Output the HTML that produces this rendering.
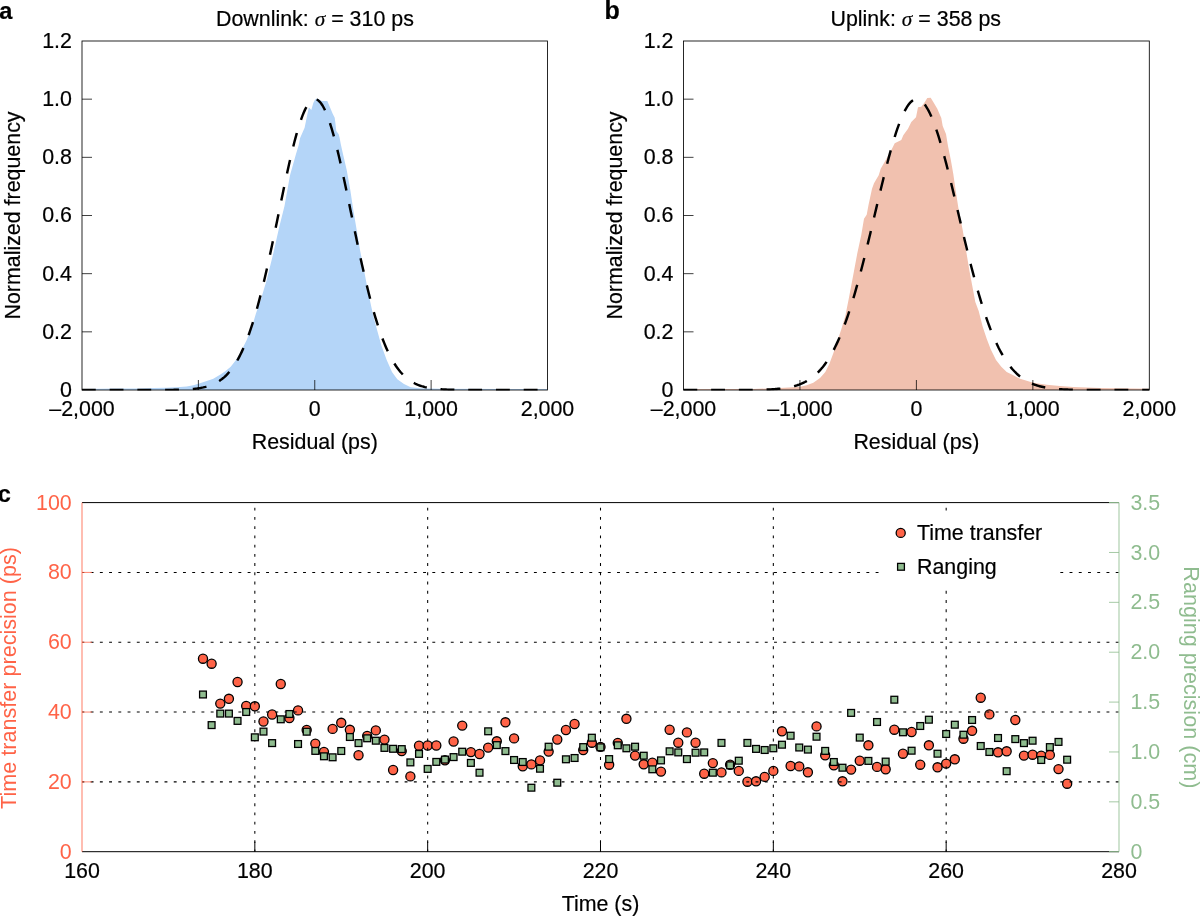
<!DOCTYPE html>
<html lang="en"><head><meta charset="utf-8"><title>Figure</title>
<style>html,body{margin:0;padding:0;background:#fff}svg{display:block}text{white-space:pre;stroke-width:0.2px;stroke-linejoin:round}text.k{stroke-width:0}</style></head>
<body>
<svg width="1200" height="916" viewBox="0 0 1200 916" font-family='"Liberation Sans", Arial, Helvetica, sans-serif' font-size="21.4">
<rect width="1200" height="916" fill="#fff"/>
<g id="panel-a">
<clipPath id="clip-a"><rect x="82" y="41" width="465.5" height="349.6"/></clipPath>
<path d="M82,390 L82,389 L100,388.8 L120,388.6 L140,388.4 L153.3,388 L166.7,387.7 L180,387 L186.7,386.4 L193.3,385.3 L200,383.3 L206.7,381 L213.3,378.7 L220,374.7 L225.3,371.3 L230.7,366.7 L236,360 L241.3,350.7 L246.7,340 L252,326.7 L256,313.3 L260.7,300 L266.7,280 L273.3,253.3 L279.3,226.7 L284.5,206 L290,175.3 L296,154 L298.7,145 L300,138.3 L304.6,127.7 L308.6,108.2 L309.3,107.7 L311.3,110 L313.3,103 L314.7,100.3 L316.3,98.4 L319,99.4 L322,101 L323.3,101.1 L327.3,101 L328.7,104.3 L332.7,113.7 L334.7,117.7 L335.3,122.3 L336.3,131 L338.7,134.3 L339.7,138.3 L340.7,143.7 L342.7,152.7 L346.7,170 L350.3,190 L353.3,210 L356.7,230 L360,250 L364,270 L368,291.3 L370.5,303 L373.3,316 L377.3,330.7 L381.3,345.3 L386.7,360 L392,372 L397.3,379.3 L404,384 L410.7,387.3 L420,388.3 L440,388.8 L547.5,389 L547.5,390 Z" fill="#B4D5F8" clip-path="url(#clip-a)"/>
<rect x="82" y="41" width="465.5" height="349" fill="none" stroke="#000" stroke-width="0.85"/>
<text x="71.9" y="396.9" text-anchor="end" fill="#000" stroke="#000" font-size="21.4">0</text>
<line x1="82" y1="331.83" x2="92" y2="331.83" stroke="#000" stroke-width="0.75"/>
<text x="71.9" y="338.73" text-anchor="end" fill="#000" stroke="#000" font-size="21.4">0.2</text>
<line x1="82" y1="273.67" x2="92" y2="273.67" stroke="#000" stroke-width="0.75"/>
<text x="71.9" y="280.57" text-anchor="end" fill="#000" stroke="#000" font-size="21.4">0.4</text>
<line x1="82" y1="215.5" x2="92" y2="215.5" stroke="#000" stroke-width="0.75"/>
<text x="71.9" y="222.4" text-anchor="end" fill="#000" stroke="#000" font-size="21.4">0.6</text>
<line x1="82" y1="157.33" x2="92" y2="157.33" stroke="#000" stroke-width="0.75"/>
<text x="71.9" y="164.23" text-anchor="end" fill="#000" stroke="#000" font-size="21.4">0.8</text>
<line x1="82" y1="99.17" x2="92" y2="99.17" stroke="#000" stroke-width="0.75"/>
<text x="71.9" y="106.07" text-anchor="end" fill="#000" stroke="#000" font-size="21.4">1.0</text>
<text x="71.9" y="47.9" text-anchor="end" fill="#000" stroke="#000" font-size="21.4">1.2</text>
<text x="82" y="416.3" text-anchor="middle" fill="#000" stroke="#000" font-size="21.4">–2,000</text>
<line x1="198.38" y1="390" x2="198.38" y2="380" stroke="#000" stroke-width="0.75"/>
<text x="198.38" y="416.3" text-anchor="middle" fill="#000" stroke="#000" font-size="21.4">–1,000</text>
<line x1="314.75" y1="390" x2="314.75" y2="380" stroke="#000" stroke-width="0.75"/>
<text x="314.75" y="416.3" text-anchor="middle" fill="#000" stroke="#000" font-size="21.4">0</text>
<line x1="431.12" y1="390" x2="431.12" y2="380" stroke="#000" stroke-width="0.75"/>
<text x="431.12" y="416.3" text-anchor="middle" fill="#000" stroke="#000" font-size="21.4">1,000</text>
<text x="547.5" y="416.3" text-anchor="middle" fill="#000" stroke="#000" font-size="21.4">2,000</text>
<path d="M82,390 L83.17,390 L84.33,390 L85.5,390 L86.67,390 L87.83,390 L89,390 L90.17,390 L91.33,390 L92.5,390 L93.67,390 L94.83,390 L96,390 L97.17,390 L98.33,390 L99.5,390 L100.67,390 L101.83,390 L103,390 L104.17,390 L105.33,390 L106.5,390 L107.67,390 L108.83,390 L110,390 L111.17,390 L112.33,390 L113.5,390 L114.67,390 L115.83,390 L117,390 L118.17,390 L119.33,390 L120.5,390 L121.67,390 L122.83,390 L124,390 L125.17,390 L126.33,390 L127.5,390 L128.67,390 L129.83,390 L131,390 L132.17,390 L133.33,390 L134.5,390 L135.67,390 L136.83,390 L138,390 L139.17,390 L140.33,390 L141.5,390 L142.67,390 L143.83,390 L145,389.99 L146.17,389.99 L147.33,389.99 L148.5,389.99 L149.67,389.99 L150.83,389.99 L152,389.99 L153.17,389.99 L154.33,389.98 L155.5,389.98 L156.67,389.98 L157.83,389.97 L159,389.97 L160.17,389.97 L161.33,389.96 L162.5,389.96 L163.67,389.95 L164.83,389.94 L166,389.94 L167.17,389.93 L168.33,389.92 L169.5,389.9 L170.67,389.89 L171.83,389.88 L173,389.86 L174.17,389.84 L175.33,389.82 L176.5,389.8 L177.67,389.77 L178.83,389.74 L180,389.71 L181.17,389.67 L182.33,389.63 L183.5,389.58 L184.67,389.53 L185.83,389.48 L187,389.41 L188.17,389.34 L189.33,389.27 L190.5,389.18 L191.67,389.09 L192.83,388.98 L194,388.87 L195.17,388.74 L196.33,388.6 L197.5,388.44 L198.67,388.27 L199.83,388.09 L201,387.88 L202.17,387.66 L203.33,387.42 L204.5,387.15 L205.67,386.86 L206.83,386.54 L208,386.19 L209.17,385.82 L210.33,385.41 L211.5,384.97 L212.67,384.49 L213.83,383.97 L215,383.41 L216.17,382.8 L217.33,382.15 L218.5,381.44 L219.67,380.69 L220.83,379.87 L222,379 L223.17,378.06 L224.33,377.06 L225.5,375.99 L226.67,374.84 L227.83,373.62 L229,372.31 L230.17,370.92 L231.33,369.45 L232.5,367.88 L233.67,366.22 L234.83,364.46 L236,362.6 L237.17,360.63 L238.33,358.56 L239.5,356.37 L240.67,354.06 L241.83,351.64 L243,349.1 L244.17,346.43 L245.33,343.64 L246.5,340.72 L247.67,337.67 L248.83,334.49 L250,331.18 L251.17,327.73 L252.33,324.15 L253.5,320.44 L254.67,316.59 L255.83,312.61 L257,308.49 L258.17,304.25 L259.33,299.88 L260.5,295.39 L261.67,290.77 L262.83,286.03 L264,281.18 L265.17,276.23 L266.33,271.17 L267.5,266.01 L268.67,260.76 L269.83,255.43 L271,250.02 L272.17,244.55 L273.33,239.02 L274.5,233.44 L275.67,227.82 L276.83,222.18 L278,216.52 L279.17,210.85 L280.33,205.18 L281.5,199.54 L282.67,193.92 L283.83,188.35 L285,182.83 L286.17,177.39 L287.33,172.02 L288.5,166.75 L289.67,161.59 L290.83,156.55 L292,151.64 L293.17,146.89 L294.33,142.29 L295.5,137.87 L296.67,133.64 L297.83,129.6 L299,125.77 L300.17,122.16 L301.33,118.79 L302.5,115.65 L303.67,112.76 L304.83,110.14 L306,107.78 L307.17,105.69 L308.33,103.89 L309.5,102.37 L310.67,101.14 L311.83,100.2 L313,99.56 L314.17,99.23 L315.33,99.19 L316.5,99.45 L317.67,100.01 L318.83,100.87 L320,102.02 L321.17,103.47 L322.33,105.2 L323.5,107.22 L324.67,109.51 L325.83,112.06 L327,114.88 L328.17,117.96 L329.33,121.27 L330.5,124.82 L331.67,128.59 L332.83,132.58 L334,136.76 L335.17,141.14 L336.33,145.69 L337.5,150.41 L338.67,155.27 L339.83,160.28 L341,165.41 L342.17,170.66 L343.33,176 L344.5,181.43 L345.67,186.93 L346.83,192.49 L348,198.09 L349.17,203.73 L350.33,209.39 L351.5,215.06 L352.67,220.72 L353.83,226.38 L355,232 L356.17,237.59 L357.33,243.13 L358.5,248.62 L359.67,254.05 L360.83,259.4 L362,264.67 L363.17,269.85 L364.33,274.93 L365.5,279.92 L366.67,284.8 L367.83,289.56 L369,294.21 L370.17,298.74 L371.33,303.14 L372.5,307.42 L373.67,311.56 L374.83,315.58 L376,319.46 L377.17,323.21 L378.33,326.82 L379.5,330.31 L380.67,333.65 L381.83,336.87 L383,339.95 L384.17,342.9 L385.33,345.73 L386.5,348.43 L387.67,351 L388.83,353.45 L390,355.79 L391.17,358 L392.33,360.11 L393.5,362.1 L394.67,363.99 L395.83,365.78 L397,367.46 L398.17,369.06 L399.33,370.55 L400.5,371.96 L401.67,373.29 L402.83,374.53 L404,375.7 L405.17,376.79 L406.33,377.81 L407.5,378.76 L408.67,379.65 L409.83,380.48 L411,381.26 L412.17,381.97 L413.33,382.64 L414.5,383.26 L415.67,383.83 L416.83,384.36 L418,384.85 L419.17,385.3 L420.33,385.72 L421.5,386.1 L422.67,386.45 L423.83,386.78 L425,387.08 L426.17,387.35 L427.33,387.6 L428.5,387.83 L429.67,388.04 L430.83,388.23 L432,388.4 L433.17,388.56 L434.33,388.7 L435.5,388.83 L436.67,388.95 L437.83,389.06 L439,389.16 L440.17,389.25 L441.33,389.32 L442.5,389.4 L443.67,389.46 L444.83,389.52 L446,389.57 L447.17,389.62 L448.33,389.66 L449.5,389.7 L450.67,389.73 L451.83,389.76 L453,389.79 L454.17,389.81 L455.33,389.84 L456.5,389.86 L457.67,389.87 L458.83,389.89 L460,389.9 L461.17,389.91 L462.33,389.92 L463.5,389.93 L464.67,389.94 L465.83,389.95 L467,389.96 L468.17,389.96 L469.33,389.97 L470.5,389.97 L471.67,389.97 L472.83,389.98 L474,389.98 L475.17,389.98 L476.33,389.99 L477.5,389.99 L478.67,389.99 L479.83,389.99 L481,389.99 L482.17,389.99 L483.33,389.99 L484.5,389.99 L485.67,390 L486.83,390 L488,390 L489.17,390 L490.33,390 L491.5,390 L492.67,390 L493.83,390 L495,390 L496.17,390 L497.33,390 L498.5,390 L499.67,390 L500.83,390 L502,390 L503.17,390 L504.33,390 L505.5,390 L506.67,390 L507.83,390 L509,390 L510.17,390 L511.33,390 L512.5,390 L513.67,390 L514.83,390 L516,390 L517.17,390 L518.33,390 L519.5,390 L520.67,390 L521.83,390 L523,390 L524.17,390 L525.33,390 L526.5,390 L527.67,390 L528.83,390 L530,390 L531.17,390 L532.33,390 L533.5,390 L534.67,390 L535.83,390 L537,390 L538.17,390 L539.33,390 L540.5,390 L541.67,390 L542.83,390 L544,390 L545.17,390 L546.33,390 L547.5,390" fill="none" stroke="#000" stroke-width="2.45" stroke-dasharray="13.865 13.865" stroke-dashoffset="0.1" clip-path="url(#clip-a)"/>
<text x="314.75" y="448.9" text-anchor="middle" fill="#000" stroke="#000" font-size="21.4">Residual (ps)</text>
<text x="20" y="215.5" text-anchor="middle" fill="#000" stroke="#000" font-size="21.4" transform="rotate(-90 20 215.5)">Normalized frequency</text>
<text x="216" y="25.7" text-anchor="start" stroke="#000" font-size="21.4">Downlink: <tspan font-family="'Liberation Serif', 'DejaVu Serif', serif" font-style="italic" font-size="21.4">σ</tspan> = 310 ps</text>
</g>
<g id="panel-b">
<clipPath id="clip-b"><rect x="683.5" y="41" width="465.8" height="349.6"/></clipPath>
<path d="M684,390 L684,389.2 L720,389 L753,389 L780,388 L793.3,387.3 L800,386.7 L806.7,385.3 L813.3,382.7 L820,378 L825.3,372 L829.3,364 L833.3,353.3 L837.3,341.3 L841.3,329.3 L845.3,316 L848.5,300 L853.3,274.7 L857.3,253.3 L861.3,234.7 L864,218.7 L866.7,214.7 L868.5,205 L872,188.7 L874,183.3 L878.7,175.3 L880.7,168.7 L885.3,160.7 L892,148.7 L894.7,143.3 L901.3,140 L903.3,135.3 L908,128.7 L911.3,122 L916,117.3 L918,107.3 L921.3,106.7 L924,103.3 L927.3,98 L930.7,97.7 L933.3,102 L937.3,108.7 L941.3,118 L942.7,126 L946,134 L948,146 L950.7,159.3 L953.3,174 L955.6,190 L958.7,210 L962.7,230 L966,250 L969.3,270 L973.3,291.3 L975.3,302 L978.7,311 L982.7,326.7 L986.7,338.7 L990.7,349.3 L996,360 L1001.3,366.7 L1006.7,372 L1013.3,375.3 L1020,378.7 L1026.7,380.7 L1033.3,382.7 L1046.7,384.7 L1060,386 L1073.3,387 L1100,388 L1149.5,388.8 L1149.5,390 Z" fill="#F1C1AF" clip-path="url(#clip-b)"/>
<rect x="683.5" y="41" width="465.8" height="349" fill="none" stroke="#000" stroke-width="0.85"/>
<text x="673.4" y="396.9" text-anchor="end" fill="#000" stroke="#000" font-size="21.4">0</text>
<line x1="683.5" y1="331.83" x2="693.5" y2="331.83" stroke="#000" stroke-width="0.75"/>
<text x="673.4" y="338.73" text-anchor="end" fill="#000" stroke="#000" font-size="21.4">0.2</text>
<line x1="683.5" y1="273.67" x2="693.5" y2="273.67" stroke="#000" stroke-width="0.75"/>
<text x="673.4" y="280.57" text-anchor="end" fill="#000" stroke="#000" font-size="21.4">0.4</text>
<line x1="683.5" y1="215.5" x2="693.5" y2="215.5" stroke="#000" stroke-width="0.75"/>
<text x="673.4" y="222.4" text-anchor="end" fill="#000" stroke="#000" font-size="21.4">0.6</text>
<line x1="683.5" y1="157.33" x2="693.5" y2="157.33" stroke="#000" stroke-width="0.75"/>
<text x="673.4" y="164.23" text-anchor="end" fill="#000" stroke="#000" font-size="21.4">0.8</text>
<line x1="683.5" y1="99.17" x2="693.5" y2="99.17" stroke="#000" stroke-width="0.75"/>
<text x="673.4" y="106.07" text-anchor="end" fill="#000" stroke="#000" font-size="21.4">1.0</text>
<text x="673.4" y="47.9" text-anchor="end" fill="#000" stroke="#000" font-size="21.4">1.2</text>
<text x="683.5" y="416.3" text-anchor="middle" fill="#000" stroke="#000" font-size="21.4">–2,000</text>
<line x1="799.95" y1="390" x2="799.95" y2="380" stroke="#000" stroke-width="0.75"/>
<text x="799.95" y="416.3" text-anchor="middle" fill="#000" stroke="#000" font-size="21.4">–1,000</text>
<line x1="916.4" y1="390" x2="916.4" y2="380" stroke="#000" stroke-width="0.75"/>
<text x="916.4" y="416.3" text-anchor="middle" fill="#000" stroke="#000" font-size="21.4">0</text>
<line x1="1032.85" y1="390" x2="1032.85" y2="380" stroke="#000" stroke-width="0.75"/>
<text x="1032.85" y="416.3" text-anchor="middle" fill="#000" stroke="#000" font-size="21.4">1,000</text>
<text x="1149.3" y="416.3" text-anchor="middle" fill="#000" stroke="#000" font-size="21.4">2,000</text>
<path d="M683.5,390 L684.67,390 L685.83,390 L687,390 L688.17,390 L689.34,390 L690.5,390 L691.67,390 L692.84,390 L694.01,390 L695.17,390 L696.34,390 L697.51,390 L698.68,390 L699.84,390 L701.01,390 L702.18,390 L703.35,390 L704.51,390 L705.68,390 L706.85,390 L708.02,390 L709.18,390 L710.35,390 L711.52,390 L712.69,390 L713.85,390 L715.02,390 L716.19,390 L717.36,390 L718.52,390 L719.69,390 L720.86,390 L722.02,389.99 L723.19,389.99 L724.36,389.99 L725.53,389.99 L726.69,389.99 L727.86,389.99 L729.03,389.99 L730.2,389.99 L731.36,389.99 L732.53,389.98 L733.7,389.98 L734.87,389.98 L736.03,389.98 L737.2,389.97 L738.37,389.97 L739.54,389.96 L740.7,389.96 L741.87,389.96 L743.04,389.95 L744.21,389.94 L745.37,389.94 L746.54,389.93 L747.71,389.92 L748.88,389.91 L750.04,389.9 L751.21,389.89 L752.38,389.88 L753.55,389.86 L754.71,389.85 L755.88,389.83 L757.05,389.81 L758.21,389.79 L759.38,389.76 L760.55,389.74 L761.72,389.71 L762.88,389.68 L764.05,389.64 L765.22,389.6 L766.39,389.56 L767.55,389.51 L768.72,389.46 L769.89,389.41 L771.06,389.35 L772.22,389.28 L773.39,389.21 L774.56,389.13 L775.73,389.04 L776.89,388.95 L778.06,388.84 L779.23,388.73 L780.4,388.61 L781.56,388.48 L782.73,388.33 L783.9,388.17 L785.07,388.01 L786.23,387.82 L787.4,387.62 L788.57,387.41 L789.74,387.18 L790.9,386.93 L792.07,386.66 L793.24,386.37 L794.4,386.06 L795.57,385.72 L796.74,385.36 L797.91,384.97 L799.07,384.56 L800.24,384.11 L801.41,383.64 L802.58,383.13 L803.74,382.58 L804.91,382 L806.08,381.38 L807.25,380.72 L808.41,380.01 L809.58,379.27 L810.75,378.47 L811.92,377.63 L813.08,376.73 L814.25,375.78 L815.42,374.77 L816.59,373.71 L817.75,372.58 L818.92,371.39 L820.09,370.14 L821.26,368.81 L822.42,367.42 L823.59,365.95 L824.76,364.41 L825.93,362.8 L827.09,361.1 L828.26,359.32 L829.43,357.45 L830.59,355.5 L831.76,353.46 L832.93,351.33 L834.1,349.11 L835.26,346.8 L836.43,344.39 L837.6,341.88 L838.77,339.28 L839.93,336.58 L841.1,333.77 L842.27,330.87 L843.44,327.86 L844.6,324.75 L845.77,321.55 L846.94,318.24 L848.11,314.82 L849.27,311.31 L850.44,307.7 L851.61,303.99 L852.78,300.18 L853.94,296.28 L855.11,292.29 L856.28,288.2 L857.45,284.03 L858.61,279.77 L859.78,275.43 L860.95,271.02 L862.12,266.53 L863.28,261.97 L864.45,257.35 L865.62,252.66 L866.78,247.93 L867.95,243.14 L869.12,238.32 L870.29,233.46 L871.45,228.56 L872.62,223.65 L873.79,218.72 L874.96,213.78 L876.12,208.85 L877.29,203.92 L878.46,199 L879.63,194.11 L880.79,189.25 L881.96,184.44 L883.13,179.67 L884.3,174.96 L885.46,170.32 L886.63,165.75 L887.8,161.26 L888.97,156.87 L890.13,152.59 L891.3,148.41 L892.47,144.35 L893.64,140.42 L894.8,136.62 L895.97,132.97 L897.14,129.47 L898.31,126.13 L899.47,122.96 L900.64,119.96 L901.81,117.14 L902.97,114.5 L904.14,112.06 L905.31,109.82 L906.48,107.78 L907.64,105.94 L908.81,104.32 L909.98,102.92 L911.15,101.73 L912.31,100.77 L913.48,100.03 L914.65,99.52 L915.82,99.23 L916.98,99.17 L918.15,99.34 L919.32,99.74 L920.49,100.36 L921.65,101.21 L922.82,102.28 L923.99,103.57 L925.16,105.08 L926.32,106.81 L927.49,108.74 L928.66,110.88 L929.83,113.22 L930.99,115.76 L932.16,118.48 L933.33,121.39 L934.49,124.48 L935.66,127.73 L936.83,131.15 L938,134.73 L939.16,138.45 L940.33,142.31 L941.5,146.31 L942.67,150.42 L943.83,154.66 L945,159 L946.17,163.43 L947.34,167.96 L948.5,172.56 L949.67,177.24 L950.84,181.98 L952.01,186.77 L953.17,191.61 L954.34,196.49 L955.51,201.39 L956.68,206.31 L957.84,211.25 L959.01,216.18 L960.18,221.12 L961.35,226.04 L962.51,230.94 L963.68,235.82 L964.85,240.67 L966.02,245.47 L967.18,250.24 L968.35,254.95 L969.52,259.6 L970.68,264.19 L971.85,268.72 L973.02,273.17 L974.19,277.55 L975.35,281.85 L976.52,286.07 L977.69,290.2 L978.86,294.24 L980.02,298.19 L981.19,302.05 L982.36,305.81 L983.53,309.47 L984.69,313.03 L985.86,316.49 L987.03,319.86 L988.2,323.12 L989.36,326.28 L990.53,329.34 L991.7,332.29 L992.87,335.15 L994.03,337.9 L995.2,340.56 L996.37,343.11 L997.54,345.57 L998.7,347.94 L999.87,350.2 L1001.04,352.38 L1002.21,354.47 L1003.37,356.46 L1004.54,358.37 L1005.71,360.19 L1006.87,361.93 L1008.04,363.59 L1009.21,365.17 L1010.38,366.68 L1011.54,368.11 L1012.71,369.47 L1013.88,370.75 L1015.05,371.98 L1016.21,373.14 L1017.38,374.23 L1018.55,375.27 L1019.72,376.25 L1020.88,377.17 L1022.05,378.04 L1023.22,378.86 L1024.39,379.64 L1025.55,380.36 L1026.72,381.05 L1027.89,381.69 L1029.06,382.29 L1030.22,382.85 L1031.39,383.38 L1032.56,383.87 L1033.73,384.33 L1034.89,384.76 L1036.06,385.16 L1037.23,385.54 L1038.4,385.89 L1039.56,386.21 L1040.73,386.51 L1041.9,386.79 L1043.06,387.05 L1044.23,387.29 L1045.4,387.52 L1046.57,387.72 L1047.73,387.91 L1048.9,388.09 L1050.07,388.25 L1051.24,388.4 L1052.4,388.54 L1053.57,388.67 L1054.74,388.79 L1055.91,388.89 L1057.07,388.99 L1058.24,389.08 L1059.41,389.17 L1060.58,389.24 L1061.74,389.31 L1062.91,389.38 L1064.08,389.44 L1065.25,389.49 L1066.41,389.54 L1067.58,389.58 L1068.75,389.62 L1069.92,389.66 L1071.08,389.69 L1072.25,389.72 L1073.42,389.75 L1074.59,389.78 L1075.75,389.8 L1076.92,389.82 L1078.09,389.84 L1079.25,389.85 L1080.42,389.87 L1081.59,389.88 L1082.76,389.9 L1083.92,389.91 L1085.09,389.92 L1086.26,389.93 L1087.43,389.93 L1088.59,389.94 L1089.76,389.95 L1090.93,389.95 L1092.1,389.96 L1093.26,389.96 L1094.43,389.97 L1095.6,389.97 L1096.77,389.97 L1097.93,389.98 L1099.1,389.98 L1100.27,389.98 L1101.44,389.98 L1102.6,389.99 L1103.77,389.99 L1104.94,389.99 L1106.11,389.99 L1107.27,389.99 L1108.44,389.99 L1109.61,389.99 L1110.78,389.99 L1111.94,389.99 L1113.11,390 L1114.28,390 L1115.44,390 L1116.61,390 L1117.78,390 L1118.95,390 L1120.11,390 L1121.28,390 L1122.45,390 L1123.62,390 L1124.78,390 L1125.95,390 L1127.12,390 L1128.29,390 L1129.45,390 L1130.62,390 L1131.79,390 L1132.96,390 L1134.12,390 L1135.29,390 L1136.46,390 L1137.63,390 L1138.79,390 L1139.96,390 L1141.13,390 L1142.3,390 L1143.46,390 L1144.63,390 L1145.8,390 L1146.97,390 L1148.13,390 L1149.3,390" fill="none" stroke="#000" stroke-width="2.45" stroke-dasharray="13.865 13.865" stroke-dashoffset="0.1" clip-path="url(#clip-b)"/>
<text x="916.4" y="448.9" text-anchor="middle" fill="#000" stroke="#000" font-size="21.4">Residual (ps)</text>
<text x="621.5" y="215.5" text-anchor="middle" fill="#000" stroke="#000" font-size="21.4" transform="rotate(-90 621.5 215.5)">Normalized frequency</text>
<text x="830.5" y="25.7" text-anchor="start" stroke="#000" font-size="21.4">Uplink: <tspan font-family="'Liberation Serif', 'DejaVu Serif', serif" font-style="italic" font-size="21.4">σ</tspan> = 358 ps</text>
</g>
<text x="-0.7" y="18.9" text-anchor="start" fill="#000" stroke="#000" font-size="23.6" font-weight="bold">a</text>
<text x="604.4" y="18.9" text-anchor="start" fill="#000" stroke="#000" font-size="25" font-weight="bold">b</text>
<text x="-2.2" y="502.3" text-anchor="start" fill="#000" stroke="#000" font-size="23.6" font-weight="bold">c</text>
<g id="panel-c">
<g fill="#FF6347" stroke="#000" stroke-width="1.3">
<circle cx="202.98" cy="658.7" r="4.55"/>
<circle cx="211.62" cy="663.7" r="4.55"/>
<circle cx="220.27" cy="703.6" r="4.55"/>
<circle cx="228.91" cy="698.8" r="4.55"/>
<circle cx="237.55" cy="682" r="4.55"/>
<circle cx="246.19" cy="706" r="4.55"/>
<circle cx="254.83" cy="706.3" r="4.55"/>
<circle cx="263.48" cy="721.5" r="4.55"/>
<circle cx="272.12" cy="714.5" r="4.55"/>
<circle cx="280.76" cy="684" r="4.55"/>
<circle cx="289.4" cy="718" r="4.55"/>
<circle cx="298.04" cy="710.4" r="4.55"/>
<circle cx="306.68" cy="730" r="4.55"/>
<circle cx="315.32" cy="743.6" r="4.55"/>
<circle cx="323.97" cy="752" r="4.55"/>
<circle cx="332.61" cy="728.9" r="4.55"/>
<circle cx="341.25" cy="722.8" r="4.55"/>
<circle cx="349.89" cy="729.8" r="4.55"/>
<circle cx="358.53" cy="755.2" r="4.55"/>
<circle cx="367.18" cy="736" r="4.55"/>
<circle cx="375.82" cy="730.4" r="4.55"/>
<circle cx="384.46" cy="739.6" r="4.55"/>
<circle cx="393.1" cy="770" r="4.55"/>
<circle cx="401.74" cy="751.1" r="4.55"/>
<circle cx="410.38" cy="776.4" r="4.55"/>
<circle cx="419.02" cy="745.7" r="4.55"/>
<circle cx="427.67" cy="745.5" r="4.55"/>
<circle cx="436.31" cy="745.5" r="4.55"/>
<circle cx="444.95" cy="760.3" r="4.55"/>
<circle cx="453.59" cy="741.5" r="4.55"/>
<circle cx="462.23" cy="725.6" r="4.55"/>
<circle cx="470.88" cy="752.1" r="4.55"/>
<circle cx="479.52" cy="754" r="4.55"/>
<circle cx="488.16" cy="747.6" r="4.55"/>
<circle cx="496.8" cy="741.3" r="4.55"/>
<circle cx="505.44" cy="722.3" r="4.55"/>
<circle cx="514.08" cy="738.4" r="4.55"/>
<circle cx="522.73" cy="766.3" r="4.55"/>
<circle cx="531.37" cy="764.4" r="4.55"/>
<circle cx="540.01" cy="760.4" r="4.55"/>
<circle cx="548.65" cy="751.6" r="4.55"/>
<circle cx="557.29" cy="739.5" r="4.55"/>
<circle cx="565.93" cy="730" r="4.55"/>
<circle cx="574.58" cy="724" r="4.55"/>
<circle cx="583.22" cy="750" r="4.55"/>
<circle cx="591.86" cy="742.7" r="4.55"/>
<circle cx="600.5" cy="746.9" r="4.55"/>
<circle cx="609.14" cy="764.7" r="4.55"/>
<circle cx="617.78" cy="742.9" r="4.55"/>
<circle cx="626.42" cy="718.8" r="4.55"/>
<circle cx="635.07" cy="755.6" r="4.55"/>
<circle cx="643.71" cy="764.3" r="4.55"/>
<circle cx="652.35" cy="762.7" r="4.55"/>
<circle cx="660.99" cy="771.6" r="4.55"/>
<circle cx="669.63" cy="729.7" r="4.55"/>
<circle cx="678.27" cy="742.7" r="4.55"/>
<circle cx="686.92" cy="732.4" r="4.55"/>
<circle cx="695.56" cy="742.7" r="4.55"/>
<circle cx="704.2" cy="773.7" r="4.55"/>
<circle cx="712.84" cy="763.1" r="4.55"/>
<circle cx="721.48" cy="772.4" r="4.55"/>
<circle cx="730.12" cy="764.7" r="4.55"/>
<circle cx="738.77" cy="770.9" r="4.55"/>
<circle cx="747.41" cy="781.7" r="4.55"/>
<circle cx="756.05" cy="781.3" r="4.55"/>
<circle cx="764.69" cy="776.9" r="4.55"/>
<circle cx="773.33" cy="770.9" r="4.55"/>
<circle cx="781.98" cy="731.3" r="4.55"/>
<circle cx="790.62" cy="766" r="4.55"/>
<circle cx="799.26" cy="766.4" r="4.55"/>
<circle cx="807.9" cy="772.3" r="4.55"/>
<circle cx="816.54" cy="726.4" r="4.55"/>
<circle cx="825.18" cy="755.3" r="4.55"/>
<circle cx="833.83" cy="765.3" r="4.55"/>
<circle cx="842.47" cy="781.3" r="4.55"/>
<circle cx="851.11" cy="769.6" r="4.55"/>
<circle cx="859.75" cy="760.7" r="4.55"/>
<circle cx="868.39" cy="745.3" r="4.55"/>
<circle cx="877.03" cy="766.9" r="4.55"/>
<circle cx="885.67" cy="769.3" r="4.55"/>
<circle cx="894.32" cy="729.7" r="4.55"/>
<circle cx="902.96" cy="753.7" r="4.55"/>
<circle cx="911.6" cy="732" r="4.55"/>
<circle cx="920.24" cy="764.7" r="4.55"/>
<circle cx="928.88" cy="745.3" r="4.55"/>
<circle cx="937.52" cy="767.3" r="4.55"/>
<circle cx="946.17" cy="763.6" r="4.55"/>
<circle cx="954.81" cy="759.3" r="4.55"/>
<circle cx="963.45" cy="738.7" r="4.55"/>
<circle cx="972.09" cy="730.8" r="4.55"/>
<circle cx="980.73" cy="697.7" r="4.55"/>
<circle cx="989.38" cy="714.4" r="4.55"/>
<circle cx="998.02" cy="752.3" r="4.55"/>
<circle cx="1006.66" cy="751.3" r="4.55"/>
<circle cx="1015.3" cy="720" r="4.55"/>
<circle cx="1023.94" cy="755.6" r="4.55"/>
<circle cx="1032.58" cy="754.7" r="4.55"/>
<circle cx="1041.22" cy="755.7" r="4.55"/>
<circle cx="1049.87" cy="754.9" r="4.55"/>
<circle cx="1058.51" cy="769.1" r="4.55"/>
<circle cx="1067.15" cy="783.7" r="4.55"/>
</g>
<g stroke="#000" stroke-width="1.05" stroke-dasharray="2.9 6.335" stroke-dashoffset="0.6" fill="none">
<path d="M82,781.88 H1119"/>
<path d="M82,712.06 H1119"/>
<path d="M82,642.24 H1119"/>
<path d="M82,572.42 H1119"/>
<path d="M254.83,851.7 V502.6"/>
<path d="M427.67,851.7 V502.6"/>
<path d="M600.5,851.7 V502.6"/>
<path d="M773.33,851.7 V502.6"/>
<path d="M946.17,851.7 V502.6"/>
</g>
<g fill="#8FBC8F" stroke="#000" stroke-width="1.3">
<rect x="199.58" y="691.1" width="6.8" height="6.8"/>
<rect x="208.22" y="721.7" width="6.8" height="6.8"/>
<rect x="216.87" y="710.2" width="6.8" height="6.8"/>
<rect x="225.51" y="710.2" width="6.8" height="6.8"/>
<rect x="234.15" y="717.5" width="6.8" height="6.8"/>
<rect x="242.79" y="708.6" width="6.8" height="6.8"/>
<rect x="251.43" y="733.9" width="6.8" height="6.8"/>
<rect x="260.08" y="728.2" width="6.8" height="6.8"/>
<rect x="268.72" y="739.7" width="6.8" height="6.8"/>
<rect x="277.36" y="715.9" width="6.8" height="6.8"/>
<rect x="286" y="710.6" width="6.8" height="6.8"/>
<rect x="294.64" y="740.6" width="6.8" height="6.8"/>
<rect x="303.28" y="728.3" width="6.8" height="6.8"/>
<rect x="311.93" y="747.5" width="6.8" height="6.8"/>
<rect x="320.57" y="752.9" width="6.8" height="6.8"/>
<rect x="329.21" y="753.9" width="6.8" height="6.8"/>
<rect x="337.85" y="747.6" width="6.8" height="6.8"/>
<rect x="346.49" y="733.6" width="6.8" height="6.8"/>
<rect x="355.13" y="739.7" width="6.8" height="6.8"/>
<rect x="363.78" y="734.9" width="6.8" height="6.8"/>
<rect x="372.42" y="737.3" width="6.8" height="6.8"/>
<rect x="381.06" y="744.5" width="6.8" height="6.8"/>
<rect x="389.7" y="745.4" width="6.8" height="6.8"/>
<rect x="398.34" y="745.7" width="6.8" height="6.8"/>
<rect x="406.98" y="759" width="6.8" height="6.8"/>
<rect x="415.62" y="750.5" width="6.8" height="6.8"/>
<rect x="424.27" y="765.5" width="6.8" height="6.8"/>
<rect x="432.91" y="758.5" width="6.8" height="6.8"/>
<rect x="441.55" y="756.2" width="6.8" height="6.8"/>
<rect x="450.19" y="753.7" width="6.8" height="6.8"/>
<rect x="458.83" y="748.3" width="6.8" height="6.8"/>
<rect x="467.48" y="759.5" width="6.8" height="6.8"/>
<rect x="476.12" y="769.3" width="6.8" height="6.8"/>
<rect x="484.76" y="727.9" width="6.8" height="6.8"/>
<rect x="493.4" y="741.7" width="6.8" height="6.8"/>
<rect x="502.04" y="747.7" width="6.8" height="6.8"/>
<rect x="510.68" y="756.6" width="6.8" height="6.8"/>
<rect x="519.33" y="758.6" width="6.8" height="6.8"/>
<rect x="527.97" y="784.3" width="6.8" height="6.8"/>
<rect x="536.61" y="765.3" width="6.8" height="6.8"/>
<rect x="545.25" y="743.3" width="6.8" height="6.8"/>
<rect x="553.89" y="779.3" width="6.8" height="6.8"/>
<rect x="562.53" y="755.9" width="6.8" height="6.8"/>
<rect x="571.18" y="754.6" width="6.8" height="6.8"/>
<rect x="579.82" y="743.7" width="6.8" height="6.8"/>
<rect x="588.46" y="734.3" width="6.8" height="6.8"/>
<rect x="597.1" y="743.9" width="6.8" height="6.8"/>
<rect x="605.74" y="755.7" width="6.8" height="6.8"/>
<rect x="614.38" y="741.9" width="6.8" height="6.8"/>
<rect x="623.02" y="744.9" width="6.8" height="6.8"/>
<rect x="631.67" y="743.3" width="6.8" height="6.8"/>
<rect x="640.31" y="752.3" width="6.8" height="6.8"/>
<rect x="648.95" y="765.9" width="6.8" height="6.8"/>
<rect x="657.59" y="757" width="6.8" height="6.8"/>
<rect x="666.23" y="747.9" width="6.8" height="6.8"/>
<rect x="674.88" y="749" width="6.8" height="6.8"/>
<rect x="683.52" y="755.7" width="6.8" height="6.8"/>
<rect x="692.16" y="749.3" width="6.8" height="6.8"/>
<rect x="700.8" y="749" width="6.8" height="6.8"/>
<rect x="709.44" y="769.3" width="6.8" height="6.8"/>
<rect x="718.08" y="739.5" width="6.8" height="6.8"/>
<rect x="726.73" y="761.9" width="6.8" height="6.8"/>
<rect x="735.37" y="757.3" width="6.8" height="6.8"/>
<rect x="744.01" y="739.5" width="6.8" height="6.8"/>
<rect x="752.65" y="745.5" width="6.8" height="6.8"/>
<rect x="761.29" y="746.6" width="6.8" height="6.8"/>
<rect x="769.93" y="744.9" width="6.8" height="6.8"/>
<rect x="778.58" y="741.3" width="6.8" height="6.8"/>
<rect x="787.22" y="732.3" width="6.8" height="6.8"/>
<rect x="795.86" y="744.1" width="6.8" height="6.8"/>
<rect x="804.5" y="746.2" width="6.8" height="6.8"/>
<rect x="813.14" y="733.3" width="6.8" height="6.8"/>
<rect x="821.78" y="747.5" width="6.8" height="6.8"/>
<rect x="830.43" y="758.6" width="6.8" height="6.8"/>
<rect x="839.07" y="764.3" width="6.8" height="6.8"/>
<rect x="847.71" y="709.5" width="6.8" height="6.8"/>
<rect x="856.35" y="734.2" width="6.8" height="6.8"/>
<rect x="864.99" y="757.5" width="6.8" height="6.8"/>
<rect x="873.63" y="718.6" width="6.8" height="6.8"/>
<rect x="882.27" y="758.2" width="6.8" height="6.8"/>
<rect x="890.92" y="696.3" width="6.8" height="6.8"/>
<rect x="899.56" y="728.9" width="6.8" height="6.8"/>
<rect x="908.2" y="747.3" width="6.8" height="6.8"/>
<rect x="916.84" y="722.6" width="6.8" height="6.8"/>
<rect x="925.48" y="716.3" width="6.8" height="6.8"/>
<rect x="934.12" y="750.3" width="6.8" height="6.8"/>
<rect x="942.77" y="730.6" width="6.8" height="6.8"/>
<rect x="951.41" y="721.3" width="6.8" height="6.8"/>
<rect x="960.05" y="731.3" width="6.8" height="6.8"/>
<rect x="968.69" y="716.6" width="6.8" height="6.8"/>
<rect x="977.33" y="742.6" width="6.8" height="6.8"/>
<rect x="985.98" y="748.6" width="6.8" height="6.8"/>
<rect x="994.62" y="734.6" width="6.8" height="6.8"/>
<rect x="1003.26" y="767.8" width="6.8" height="6.8"/>
<rect x="1011.9" y="735.7" width="6.8" height="6.8"/>
<rect x="1020.54" y="739.7" width="6.8" height="6.8"/>
<rect x="1029.18" y="737.3" width="6.8" height="6.8"/>
<rect x="1037.82" y="756.6" width="6.8" height="6.8"/>
<rect x="1046.47" y="743.7" width="6.8" height="6.8"/>
<rect x="1055.11" y="738.5" width="6.8" height="6.8"/>
<rect x="1063.75" y="756.3" width="6.8" height="6.8"/>
</g>
<rect x="881" y="511" width="177" height="78.5" fill="#fff"/>
<circle cx="900.7" cy="532.9" r="4.55" fill="#FF6347" stroke="#000" stroke-width="1.3"/>
<rect x="897.6" y="563.4" width="6.8" height="6.8" fill="#8FBC8F" stroke="#000" stroke-width="1.3"/>
<text x="917" y="540" text-anchor="start" fill="#000" stroke="#000" font-size="21.4">Time transfer</text>
<text x="917" y="573.7" text-anchor="start" fill="#000" stroke="#000" font-size="21.4">Ranging</text>
<line x1="82" y1="502.6" x2="1119" y2="502.6" stroke="#000" stroke-width="1"/>
<line x1="82" y1="851.7" x2="1119" y2="851.7" stroke="#000" stroke-width="1"/>
<line x1="82" y1="502.6" x2="82" y2="851.7" stroke="#FF6347" stroke-width="0.85"/>
<line x1="1119" y1="502.6" x2="1119" y2="851.7" stroke="#8FBC8F" stroke-width="0.85"/>
<text x="71.7" y="858.6" text-anchor="end" fill="#FF6347" stroke="#FF6347" font-size="21.4" class="k">0</text>
<line x1="82" y1="781.88" x2="92" y2="781.88" stroke="#FF6347" stroke-width="0.8"/>
<text x="71.7" y="788.78" text-anchor="end" fill="#FF6347" stroke="#FF6347" font-size="21.4" class="k">20</text>
<line x1="82" y1="712.06" x2="92" y2="712.06" stroke="#FF6347" stroke-width="0.8"/>
<text x="71.7" y="718.96" text-anchor="end" fill="#FF6347" stroke="#FF6347" font-size="21.4" class="k">40</text>
<line x1="82" y1="642.24" x2="92" y2="642.24" stroke="#FF6347" stroke-width="0.8"/>
<text x="71.7" y="649.14" text-anchor="end" fill="#FF6347" stroke="#FF6347" font-size="21.4" class="k">60</text>
<line x1="82" y1="572.42" x2="92" y2="572.42" stroke="#FF6347" stroke-width="0.8"/>
<text x="71.7" y="579.32" text-anchor="end" fill="#FF6347" stroke="#FF6347" font-size="21.4" class="k">80</text>
<text x="71.7" y="509.5" text-anchor="end" fill="#FF6347" stroke="#FF6347" font-size="21.4" class="k">100</text>
<line x1="1119" y1="851.7" x2="1109" y2="851.7" stroke="#8FBC8F" stroke-width="1"/>
<text x="1130.4" y="858.8" text-anchor="start" fill="#8FBC8F" stroke="#8FBC8F" font-size="21.4" class="k">0</text>
<line x1="1119" y1="801.83" x2="1109" y2="801.83" stroke="#8FBC8F" stroke-width="0.8"/>
<text x="1130.4" y="808.93" text-anchor="start" fill="#8FBC8F" stroke="#8FBC8F" font-size="21.4" class="k">0.5</text>
<line x1="1119" y1="751.96" x2="1109" y2="751.96" stroke="#8FBC8F" stroke-width="0.8"/>
<text x="1130.4" y="759.06" text-anchor="start" fill="#8FBC8F" stroke="#8FBC8F" font-size="21.4" class="k">1.0</text>
<line x1="1119" y1="702.09" x2="1109" y2="702.09" stroke="#8FBC8F" stroke-width="0.8"/>
<text x="1130.4" y="709.19" text-anchor="start" fill="#8FBC8F" stroke="#8FBC8F" font-size="21.4" class="k">1.5</text>
<line x1="1119" y1="652.21" x2="1109" y2="652.21" stroke="#8FBC8F" stroke-width="0.8"/>
<text x="1130.4" y="659.31" text-anchor="start" fill="#8FBC8F" stroke="#8FBC8F" font-size="21.4" class="k">2.0</text>
<line x1="1119" y1="602.34" x2="1109" y2="602.34" stroke="#8FBC8F" stroke-width="0.8"/>
<text x="1130.4" y="609.44" text-anchor="start" fill="#8FBC8F" stroke="#8FBC8F" font-size="21.4" class="k">2.5</text>
<line x1="1119" y1="552.47" x2="1109" y2="552.47" stroke="#8FBC8F" stroke-width="0.8"/>
<text x="1130.4" y="559.57" text-anchor="start" fill="#8FBC8F" stroke="#8FBC8F" font-size="21.4" class="k">3.0</text>
<line x1="1119" y1="502.6" x2="1109" y2="502.6" stroke="#8FBC8F" stroke-width="1"/>
<text x="1130.4" y="509.7" text-anchor="start" fill="#8FBC8F" stroke="#8FBC8F" font-size="21.4" class="k">3.5</text>
<text x="82" y="877.9" text-anchor="middle" fill="#000" stroke="#000" font-size="21.4">160</text>
<line x1="254.83" y1="851.7" x2="254.83" y2="841.7" stroke="#000" stroke-width="1"/>
<text x="254.83" y="877.9" text-anchor="middle" fill="#000" stroke="#000" font-size="21.4">180</text>
<line x1="427.67" y1="851.7" x2="427.67" y2="841.7" stroke="#000" stroke-width="1"/>
<text x="427.67" y="877.9" text-anchor="middle" fill="#000" stroke="#000" font-size="21.4">200</text>
<line x1="600.5" y1="851.7" x2="600.5" y2="841.7" stroke="#000" stroke-width="1"/>
<text x="600.5" y="877.9" text-anchor="middle" fill="#000" stroke="#000" font-size="21.4">220</text>
<line x1="773.33" y1="851.7" x2="773.33" y2="841.7" stroke="#000" stroke-width="1"/>
<text x="773.33" y="877.9" text-anchor="middle" fill="#000" stroke="#000" font-size="21.4">240</text>
<line x1="946.17" y1="851.7" x2="946.17" y2="841.7" stroke="#000" stroke-width="1"/>
<text x="946.17" y="877.9" text-anchor="middle" fill="#000" stroke="#000" font-size="21.4">260</text>
<text x="1119" y="877.9" text-anchor="middle" fill="#000" stroke="#000" font-size="21.4">280</text>
<text x="600.5" y="911" text-anchor="middle" fill="#000" stroke="#000" font-size="21.4">Time (s)</text>
<text x="16.2" y="677.95" text-anchor="middle" fill="#FF6347" stroke="#FF6347" font-size="21.6" transform="rotate(-90 16.2 677.95)" class="k">Time transfer precision (ps)</text>
<text x="1183.5" y="677.35" text-anchor="middle" fill="#8FBC8F" stroke="#8FBC8F" font-size="21.6" transform="rotate(90 1183.5 677.35)" class="k">Ranging precision (cm)</text>
</g>
</svg>
</body></html>
